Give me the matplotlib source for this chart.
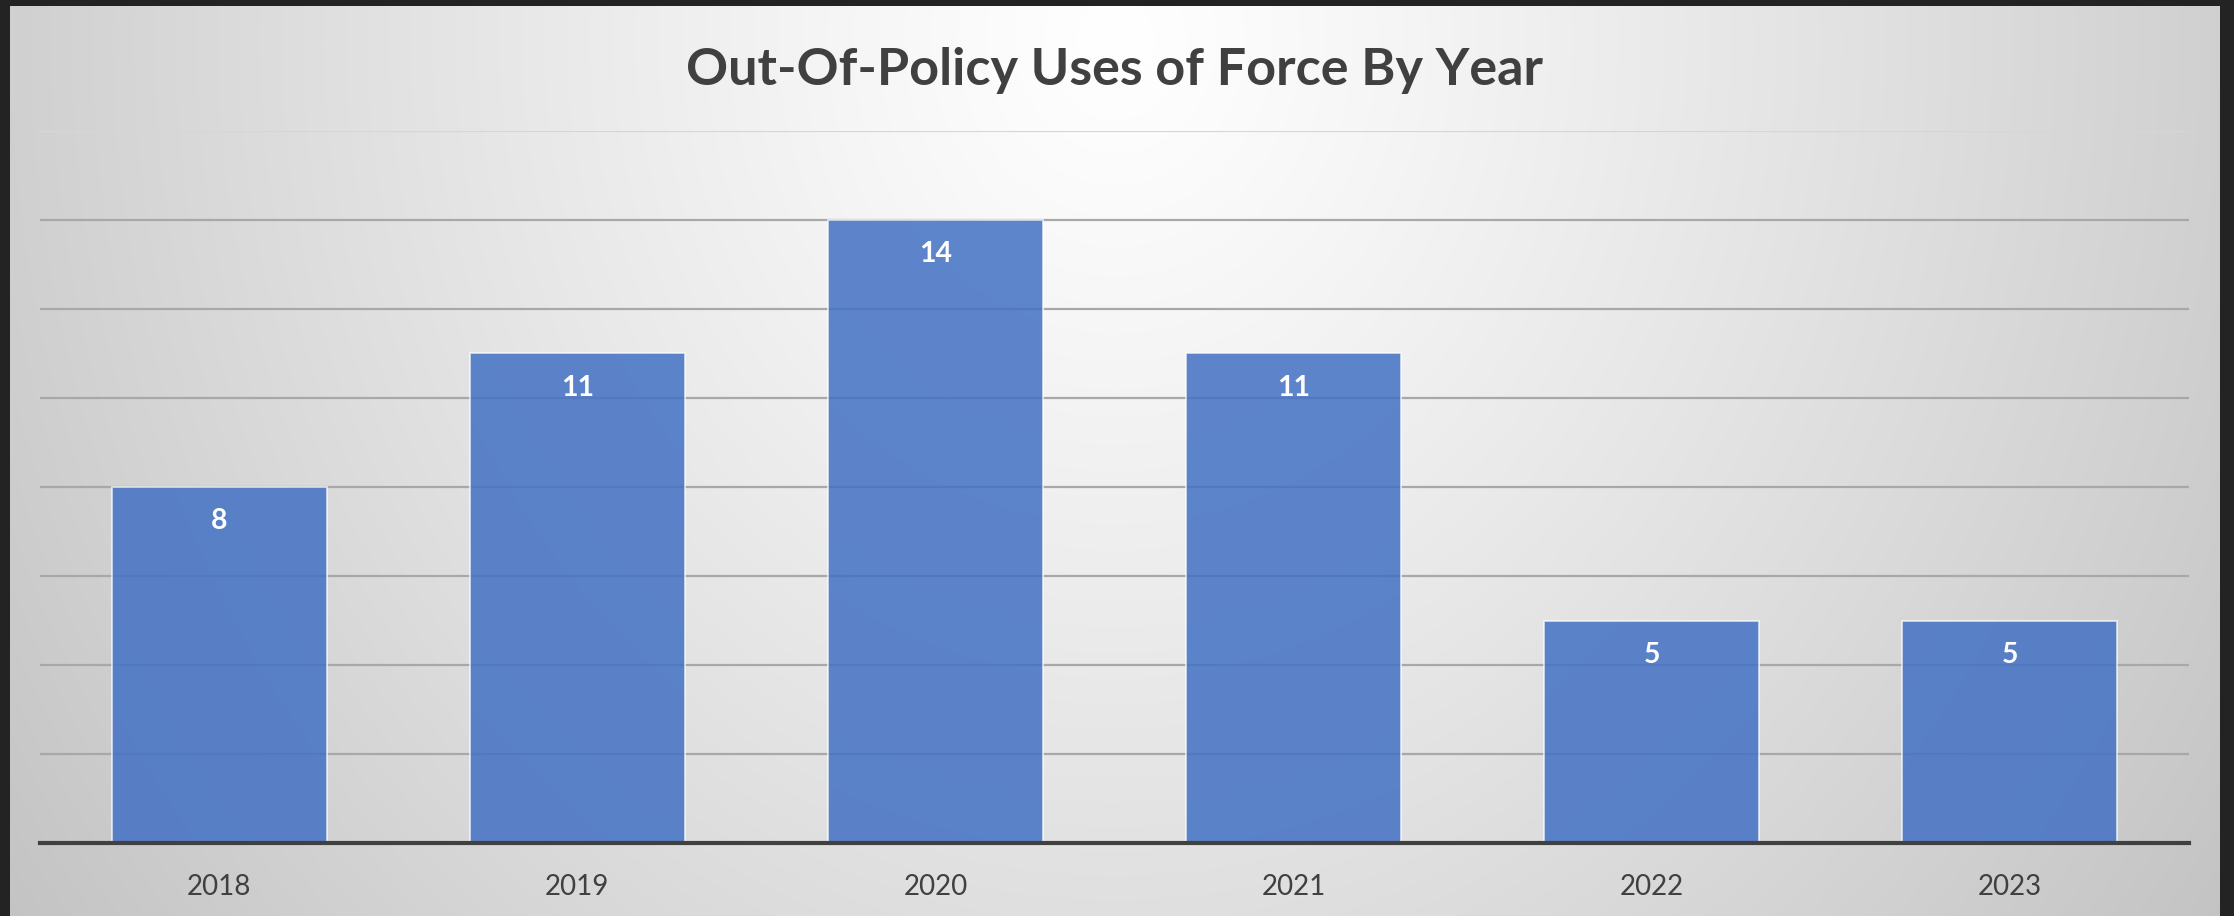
import numpy as np
import matplotlib
matplotlib.use("Agg")
import matplotlib.pyplot as plt

# ---- data ----
years = ["2018", "2019", "2020", "2021", "2022", "2023"]
counts = [8, 11, 14, 11, 5, 5]
title = "Out-Of-Policy Uses of Force By Year"

W, H = 2234, 916
fig = plt.figure(figsize=(W / 100, H / 100), dpi=100, facecolor="#232323")

# ---- gradient panel background ----
px0, px1, py0, py1 = 10, 2220, 6, 916
bg = fig.add_axes([px0 / W, 1 - py1 / H, (px1 - px0) / W, (py1 - py0) / H])
xs = np.arange(px0, px1)
ys = np.arange(py0, py1)
X, Y = np.meshgrid(xs, ys)
r = np.sqrt(((X - 1115) / 1105.0) ** 2 + ((Y - 40) / 1234.0) ** 2)
b = (255 - 47 * r ** 1.15) / 255.0
img = np.dstack([b, b, b])
bg.imshow(img, aspect="auto", extent=[0, 1, 0, 1], interpolation="bilinear")
bg.set_axis_off()
bg.set_zorder(-5)

# ---- main axes ----
ax_left, ax_right = 40, 2189
ax_top, ax_bottom = 131, 843
ax = fig.add_axes([ax_left / W, 1 - ax_bottom / H, (ax_right - ax_left) / W, (ax_bottom - ax_top) / H])
ax.patch.set_alpha(0)

x = np.arange(len(years))
ax.bar(x, counts, width=0.6, color=(0x44 / 255, 0x72 / 255, 0xC4 / 255, 0.86),
       edgecolor=(1, 1, 1, 0.7), linewidth=1.3, zorder=3)

ax.set_xlim(-0.5, len(years) - 0.5)
ax.set_ylim(0, 16)
ax.set_yticks(np.arange(0, 17, 2))
ax.yaxis.grid(True, color="#a8a8a8", linewidth=1.6, zorder=1)
ax.set_axisbelow(True)
gl = ax.get_ygridlines()
if len(gl):
    gl[-1].set_color("#d6d6d6")
ax.tick_params(axis="y", left=False, labelleft=False)
ax.set_xticks(x)
ax.set_xticklabels(years, fontsize=20, color="#404040", family="Lato")
ax.tick_params(axis="x", length=0, pad=22)
for s in ["top", "left", "right"]:
    ax.spines[s].set_visible(False)
ax.spines["bottom"].set_color("#404040")
ax.spines["bottom"].set_linewidth(3)
ax.spines["bottom"].set_zorder(5)

for xi, v in zip(x, counts):
    ax.annotate(str(v), (xi, v), xytext=(0, -24.5), textcoords="offset points",
                ha="center", va="center", color="white", fontsize=20.5,
                fontweight="bold", family="Lato", zorder=6)

fig.text(1115 / W, 1 - 85 / H, title, ha="center", va="baseline",
         fontsize=37.5, fontweight="bold", color="#404040", family="Lato")

fig.savefig("out.png", dpi=100, facecolor=fig.get_facecolor())
